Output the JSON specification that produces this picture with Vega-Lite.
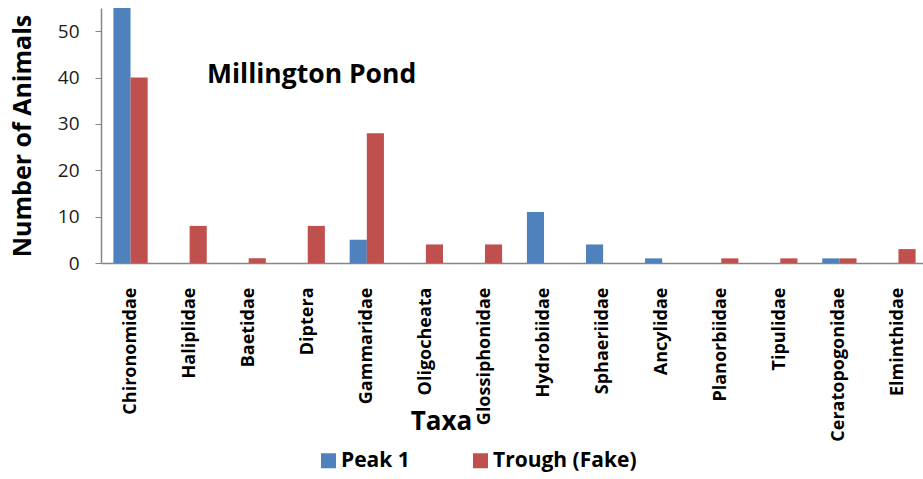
{
  "$schema": "https://vega.github.io/schema/vega-lite/v6.json",
  "width": 827,
  "height": 255,
  "autosize": {"type": "none"},
  "padding": {"left": 101, "top": 8, "right": 0, "bottom": 216},
  "background": "white",
  "config": {"view": {"stroke": null}, "font": "Open Sans"},
  "title": {
    "text": "Millington Pond",
    "anchor": "start",
    "frame": "group",
    "offset": -80,
    "dx": 106,
    "fontSize": 26.5,
    "fontWeight": "bold",
    "font": "Open Sans",
    "color": "#000000"
  },
  "data": {
    "values": [
      {"taxa": "Chironomidae", "series": "Peak 1", "count": 55},
      {"taxa": "Chironomidae", "series": "Trough (Fake)", "count": 40},
      {"taxa": "Haliplidae", "series": "Peak 1", "count": 0},
      {"taxa": "Haliplidae", "series": "Trough (Fake)", "count": 8},
      {"taxa": "Baetidae", "series": "Peak 1", "count": 0},
      {"taxa": "Baetidae", "series": "Trough (Fake)", "count": 1},
      {"taxa": "Diptera", "series": "Peak 1", "count": 0},
      {"taxa": "Diptera", "series": "Trough (Fake)", "count": 8},
      {"taxa": "Gammaridae", "series": "Peak 1", "count": 5},
      {"taxa": "Gammaridae", "series": "Trough (Fake)", "count": 28},
      {"taxa": "Oligocheata", "series": "Peak 1", "count": 0},
      {"taxa": "Oligocheata", "series": "Trough (Fake)", "count": 4},
      {"taxa": "Glossiphonidae", "series": "Peak 1", "count": 0},
      {"taxa": "Glossiphonidae", "series": "Trough (Fake)", "count": 4},
      {"taxa": "Hydrobiidae", "series": "Peak 1", "count": 11},
      {"taxa": "Hydrobiidae", "series": "Trough (Fake)", "count": 0},
      {"taxa": "Sphaeriidae", "series": "Peak 1", "count": 4},
      {"taxa": "Sphaeriidae", "series": "Trough (Fake)", "count": 0},
      {"taxa": "Ancylidae", "series": "Peak 1", "count": 1},
      {"taxa": "Ancylidae", "series": "Trough (Fake)", "count": 0},
      {"taxa": "Planorbiidae", "series": "Peak 1", "count": 0},
      {"taxa": "Planorbiidae", "series": "Trough (Fake)", "count": 1},
      {"taxa": "Tipulidae", "series": "Peak 1", "count": 0},
      {"taxa": "Tipulidae", "series": "Trough (Fake)", "count": 1},
      {"taxa": "Ceratopogonidae", "series": "Peak 1", "count": 1},
      {"taxa": "Ceratopogonidae", "series": "Trough (Fake)", "count": 1},
      {"taxa": "Elminthidae", "series": "Peak 1", "count": 0},
      {"taxa": "Elminthidae", "series": "Trough (Fake)", "count": 3}
    ]
  },
  "mark": {"type": "bar", "clip": true},
  "encoding": {
    "x": {
      "field": "taxa",
      "type": "nominal",
      "sort": null,
      "scale": {"paddingInner": 0.42, "paddingOuter": 0.21},
      "axis": {
        "title": "Taxa",
        "titleFontSize": 26,
        "titleFontWeight": "bold",
        "titleFont": "Open Sans",
        "titleColor": "#000000",
        "titleX": 340,
        "titleY": 158,
        "titleBaseline": "middle",
        "titleAnchor": "middle",
        "labelAngle": -90,
        "labelFontSize": 18,
        "labelFontWeight": "bold",
        "labelColor": "#000000",
        "labelPadding": 24,
        "labelLimit": 250,
        "ticks": false,
        "domainColor": "#868686",
        "domainWidth": 1.5,
        "labelOverlap": false
      }
    },
    "xOffset": {"field": "series", "type": "nominal", "scale": {"paddingInner": 0, "paddingOuter": 0}},
    "y": {
      "field": "count",
      "type": "quantitative",
      "scale": {"domain": [0, 55], "nice": false},
      "axis": {
        "title": "Number of Animals",
        "titleFontSize": 25,
        "titleFontWeight": "bold",
        "titleColor": "#000000",
        "titlePadding": 22,
        "values": [0, 10, 20, 30, 40, 50],
        "grid": false,
        "labelFontSize": 19,
        "labelColor": "#1a1a1a",
        "labelPadding": 16,
        "tickColor": "#868686",
        "tickSize": 6,
        "domainColor": "#868686",
        "domainWidth": 1.5
      }
    },
    "color": {
      "field": "series",
      "type": "nominal",
      "scale": {"domain": ["Peak 1", "Trough (Fake)"], "range": ["#4F81BD", "#C0504D"]},
      "legend": {
        "title": null,
        "orient": "none",
        "direction": "horizontal",
        "legendX": 217,
        "legendY": 442,
        "symbolType": "square",
        "symbolSize": 225,
        "symbolStrokeWidth": 0,
        "labelFontSize": 21,
        "labelFontWeight": "bold",
        "labelColor": "#000000",
        "labelOffset": 2,
        "columnPadding": 60
      }
    }
  }
}
